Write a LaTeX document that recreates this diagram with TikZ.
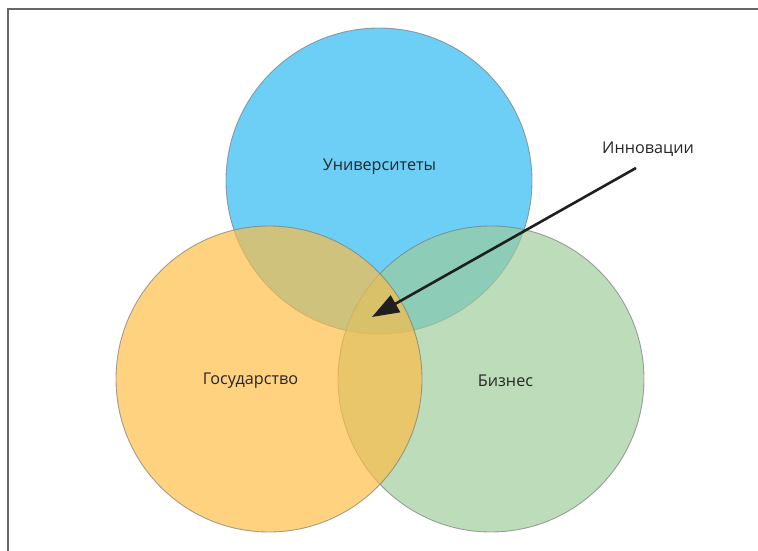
\documentclass[tikz,border=0pt]{standalone}
\usepackage{fontspec}
\setmainfont{Open Sans}
\usetikzlibrary{arrows.meta}

\definecolor{univblue}{RGB}{37,184,242}
\definecolor{gosorange}{RGB}{255,188,66}
\definecolor{bizgreen}{RGB}{157,204,152}
\definecolor{rimgray}{RGB}{120,120,120}

\tikzset{
  venn/.style={circle, minimum size=306pt, inner sep=0pt, draw=rimgray, line width=0.9pt, opacity=0.67},
  lbl/.style={font=\fontsize{16.2}{19}\selectfont, text=black!85},
}

\begin{document}
\begin{tikzpicture}[x=1pt, y=-1pt]
        \useasboundingbox (0,0) rectangle (758,551);
        % frame
        \draw[black!60, line width=2pt] (758,9.5) -- (7.5,9.5) -- (7.5,551);

        \node[venn, fill=univblue] (univ) at (379,181) {};
        \node[venn, fill=bizgreen] (biz) at (491,379) {};
        \node[venn, fill=gosorange] (gos) at (269,379) {};

        \node[lbl] (univtext) at (379.5,167) {Университеты};
        \node[lbl] (gostext) at (250.5,381) {Государство};
        \node[lbl] (biztext) at (505.5,381) {Бизнес};
        \node[lbl] (innov) at (648,149) {Инновации};

        \coordinate (innovfrom) at (636,168);
        \coordinate (innovto) at (372,317);
        \draw[black!88, line width=2.6pt, -{Triangle[length=27pt,width=19pt]}] (innovfrom) -- (innovto);
      \end{tikzpicture}
\end{document}
